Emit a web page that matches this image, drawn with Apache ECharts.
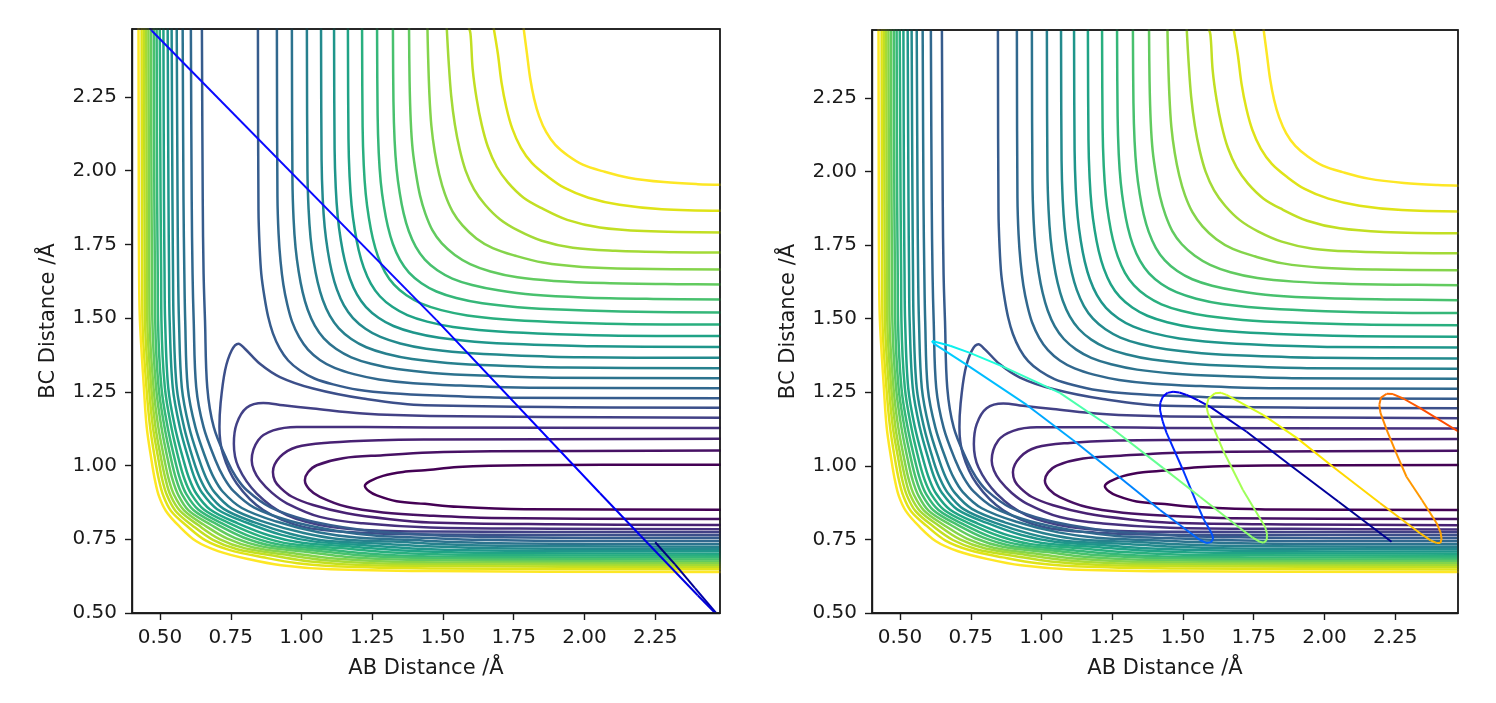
<!DOCTYPE html>
<html>
<head>
<meta charset="utf-8">
<script src="https://cdn.jsdelivr.net/npm/echarts@6/dist/echarts.min.js"></script>
<style>html,body{margin:0;padding:0;background:#fff}#c{width:1496px;height:703px}</style>
</head>
<body>
<div id="c"></div>
<script>
const xTicks = [0.5,0.75,1.0,1.25,1.5,1.75,2.0,2.25];
const yTicks = [0.5,0.75,1.0,1.25,1.5,1.75,2.0,2.25];
const xName = "AB Distance /Å";
const yName = "BC Distance /Å";
const levelColors = ["#440154","#471164","#482173","#46307e","#424186","#3c4f8a","#365c8d","#31688e","#2c738e","#27808e","#238a8d","#1f968b","#20a386","#29af7f","#35b779","#48c16e","#62cb5f","#84d44b","#a3da37","#c2df23","#dfe318","#fde725"];

// the six contours that stay in the reactant valley and open to the right
const valleyContours = [
 [[2.49,1.003],[1.790,1.001],[1.553,.995],[1.436,.984],[1.359,.978],[1.288,.965],[1.242,.947],[1.224,.931],[1.239,.913],[1.266,.899],[1.336,.879],[1.436,.870],[1.553,.860],[1.790,.852],[2.49,.850]],
 [[2.49,1.051],[1.672,1.048],[1.454,1.044],[1.288,1.035],[1.147,1.025],[1.054,1.001],[1.023,.977],[1.012,.950],[1.027,.920],[1.065,.894],[1.160,.860],[1.288,.841],[1.454,.830],[1.672,.822],[2.49,.819]],
 [[2.49,1.091],[1.454,1.088],[1.277,1.086],[1.101,1.078],[.983,1.063],[.924,1.029],[.899,.978],[.906,.948],[.925,.925],[.965,.895],[1.041,.866],[1.160,.838],[1.313,.818],[1.454,.807],[1.878,.801],[2.49,.798]],
 [[2.49,1.127],[1.454,1.129],[1.217,1.131],[.983,1.131],[.900,1.119],[.847,1.086],[.824,1.018],[.832,.984],[.853,.950],[.895,.908],[.948,.872],[1.065,.826],[1.217,.804],[1.454,.790],[1.878,.786],[2.49,.784]],
 [[2.49,1.162],[1.454,1.168],[1.217,1.176],[1.041,1.193],[.935,1.204],[.865,1.212],[.806,1.196],[.771,1.142],[.761,1.074],[.777,.995],[.842,.905],[.948,.832],[1.101,.792],[1.277,.779],[1.454,.776],[2.49,.774]],
 [[2.49,1.196],[1.436,1.204],[1.217,1.227],[1.041,1.261],[.924,1.300],[.853,1.345],[.800,1.396],[.777,1.413],[.753,1.390],[.730,1.323],[.714,1.210],[.710,1.131],[.722,1.041],[.771,.939],[.865,.849],[1.006,.792],[1.195,.773],[1.454,.766],[2.49,.764]]
];

// upper right branch of the sixteen higher levels
const plateauContours = [
 [[.846,2.49],[.848,1.865],[.852,1.741],[.858,1.649],[.869,1.572],[.882,1.505],[.899,1.448],[.923,1.397],[.953,1.356],[.995,1.322],[1.046,1.295],[1.112,1.275],[1.199,1.257],[1.318,1.245],[1.483,1.237],[1.72,1.230],[2.49,1.228]],
 [[.913,2.49],[.915,1.912],[.919,1.786],[.926,1.692],[.936,1.613],[.950,1.545],[.967,1.487],[.992,1.435],[1.023,1.393],[1.065,1.358],[1.117,1.331],[1.185,1.310],[1.274,1.292],[1.395,1.279],[1.563,1.271],[1.805,1.264],[2.49,1.262]],
 [[.966,2.49],[.968,1.966],[.972,1.836],[.979,1.739],[.990,1.658],[1.004,1.588],[1.022,1.528],[1.047,1.474],[1.079,1.431],[1.123,1.395],[1.176,1.367],[1.246,1.345],[1.338,1.327],[1.463,1.314],[1.636,1.305],[1.886,1.298],[2.49,1.296]],
 [[1.019,2.49],[1.021,2.000],[1.025,1.870],[1.032,1.773],[1.043,1.692],[1.057,1.622],[1.075,1.562],[1.100,1.508],[1.132,1.465],[1.176,1.429],[1.229,1.401],[1.299,1.379],[1.391,1.361],[1.516,1.348],[1.689,1.339],[1.939,1.332],[2.49,1.330]],
 [[1.069,2.49],[1.071,2.035],[1.075,1.905],[1.082,1.808],[1.093,1.727],[1.107,1.657],[1.125,1.597],[1.150,1.543],[1.182,1.500],[1.226,1.464],[1.279,1.436],[1.349,1.414],[1.441,1.396],[1.566,1.383],[1.739,1.374],[1.989,1.367],[2.49,1.365]],
 [[1.115,2.49],[1.117,2.072],[1.121,1.942],[1.128,1.845],[1.139,1.764],[1.153,1.694],[1.171,1.634],[1.196,1.580],[1.228,1.537],[1.272,1.501],[1.325,1.473],[1.395,1.451],[1.487,1.433],[1.612,1.420],[1.785,1.411],[2.035,1.404],[2.49,1.402]],
 [[1.164,2.49],[1.166,2.109],[1.170,1.979],[1.177,1.882],[1.188,1.801],[1.202,1.731],[1.220,1.671],[1.245,1.617],[1.277,1.574],[1.321,1.538],[1.374,1.510],[1.444,1.488],[1.536,1.470],[1.661,1.457],[1.834,1.448],[2.084,1.441],[2.49,1.439]],
 [[1.214,2.49],[1.216,2.148],[1.220,2.018],[1.227,1.921],[1.238,1.840],[1.252,1.770],[1.270,1.710],[1.295,1.656],[1.327,1.613],[1.371,1.577],[1.424,1.549],[1.494,1.527],[1.586,1.509],[1.711,1.496],[1.884,1.487],[2.134,1.480],[2.49,1.478]],
 [[1.267,2.49],[1.269,2.189],[1.273,2.059],[1.280,1.962],[1.291,1.881],[1.305,1.811],[1.323,1.751],[1.348,1.697],[1.380,1.654],[1.424,1.618],[1.477,1.590],[1.547,1.568],[1.639,1.550],[1.764,1.537],[1.937,1.528],[2.187,1.521],[2.49,1.519]],
 [[1.323,2.49],[1.325,2.233],[1.329,2.103],[1.336,2.006],[1.347,1.925],[1.361,1.855],[1.379,1.795],[1.404,1.741],[1.436,1.698],[1.480,1.662],[1.533,1.634],[1.603,1.612],[1.695,1.594],[1.820,1.579],[1.993,1.570],[2.243,1.565],[2.49,1.563]],
 [[1.380,2.49],[1.382,2.304],[1.386,2.170],[1.393,2.070],[1.405,1.987],[1.419,1.915],[1.438,1.853],[1.463,1.797],[1.496,1.753],[1.542,1.714],[1.596,1.683],[1.668,1.658],[1.763,1.638],[1.892,1.626],[2.07,1.619],[2.328,1.615],[2.49,1.614]],
 [[1.445,2.49],[1.447,2.402],[1.452,2.259],[1.459,2.152],[1.471,2.063],[1.487,1.986],[1.507,1.920],[1.534,1.861],[1.569,1.814],[1.618,1.770],[1.676,1.737],[1.753,1.712],[1.853,1.688],[1.992,1.673],[2.182,1.667],[2.49,1.665]],
 [[1.513,2.49],[1.520,2.370],[1.529,2.254],[1.542,2.156],[1.559,2.072],[1.580,2.000],[1.610,1.936],[1.649,1.884],[1.701,1.835],[1.765,1.797],[1.849,1.762],[1.959,1.738],[2.109,1.728],[2.317,1.723],[2.49,1.722]],
 [[1.589,2.49],[1.597,2.465],[1.605,2.344],[1.619,2.243],[1.637,2.155],[1.659,2.080],[1.690,2.013],[1.730,1.959],[1.785,1.908],[1.852,1.871],[1.939,1.833],[2.054,1.807],[2.210,1.795],[2.49,1.790]],
 [[1.678,2.49],[1.694,2.396],[1.707,2.298],[1.724,2.214],[1.745,2.142],[1.775,2.078],[1.814,2.026],[1.866,1.983],[1.930,1.941],[2.014,1.908],[2.124,1.884],[2.274,1.869],[2.49,1.864]],
 [[1.784,2.49],[1.797,2.395],[1.808,2.314],[1.822,2.244],[1.840,2.184],[1.865,2.130],[1.897,2.087],[1.941,2.051],[1.994,2.020],[2.064,1.998],[2.156,1.976],[2.281,1.961],[2.40,1.954],[2.49,1.952]]
];

// wall branch of the same sixteen levels
const wallContours = [
 [[.648,2.49],[.651,1.9],[.654,1.65],[.659,1.492],[.667,1.265],[.690,1.130],[.737,1.018],[.768,.962],[.807,.916],[.889,.859],[1.019,.815],[1.196,.784],[1.35,.770],[1.50,.762],[1.70,.757],[1.90,.755],[2.15,.754],[2.49,.754]],
 [[.609,2.49],[.612,1.9],[.615,1.65],[.619,1.492],[.628,1.265],[.654,1.130],[.696,1.018],[.725,.960],[.760,.913],[.833,.857],[.960,.812],[1.122,.779],[1.266,.762],[1.438,.755],[1.631,.748],[1.828,.745],[2.087,.744],[2.49,.744]],
 [[.580,2.49],[.583,1.9],[.586,1.65],[.589,1.492],[.598,1.265],[.625,1.130],[.664,1.018],[.690,.959],[.722,.911],[.789,.856],[.911,.810],[1.059,.774],[1.195,.756],[1.376,.748],[1.561,.740],[1.757,.736],[2.025,.734],[2.49,.734]],
 [[.559,2.49],[.562,1.9],[.564,1.65],[.567,1.492],[.577,1.265],[.603,1.130],[.639,1.018],[.663,.958],[.693,.909],[.754,.854],[.870,.808],[1.008,.771],[1.137,.750],[1.324,.742],[1.503,.733],[1.697,.728],[1.973,.726],[2.49,.725]],
 [[.541,2.49],[.544,1.9],[.546,1.65],[.548,1.492],[.559,1.265],[.585,1.130],[.618,1.018],[.641,.957],[.669,.908],[.725,.853],[.834,.807],[.963,.768],[1.086,.745],[1.273,.736],[1.445,.726],[1.637,.720],[1.920,.718],[2.49,.717]],
 [[.527,2.49],[.530,1.9],[.532,1.65],[.534,1.492],[.545,1.265],[.570,1.130],[.602,1.018],[.623,.956],[.649,.907],[.702,.852],[.807,.806],[.929,.765],[1.047,.742],[1.224,.730],[1.391,.719],[1.582,.713],[1.872,.710],[2.49,.709]],
 [[.512,2.49],[.514,1.9],[.516,1.65],[.518,1.492],[.529,1.265],[.553,1.130],[.583,1.018],[.603,.956],[.628,.905],[.677,.851],[.775,.804],[.889,.762],[1.002,.738],[1.180,.725],[1.341,.713],[1.530,.706],[1.826,.703],[2.49,.701]],
 [[.499,2.49],[.502,1.9],[.504,1.65],[.505,1.492],[.517,1.265],[.540,1.130],[.567,1.018],[.586,.955],[.610,.904],[.655,.851],[.748,.803],[.855,.760],[.963,.734],[1.135,.720],[1.291,.707],[1.478,.699],[1.781,.696],[2.49,.694]],
 [[.488,2.49],[.490,1.9],[.492,1.65],[.493,1.492],[.505,1.265],[.527,1.130],[.553,1.018],[.571,.954],[.593,.903],[.636,.850],[.723,.802],[.823,.758],[.928,.731],[1.093,.715],[1.245,.701],[1.430,.692],[1.739,.689],[2.49,.688]],
 [[.478,2.49],[.480,1.9],[.482,1.65],[.483,1.492],[.495,1.265],[.516,1.130],[.540,1.018],[.557,.954],[.578,.902],[.618,.849],[.700,.801],[.795,.756],[.895,.728],[1.056,.711],[1.202,.696],[1.387,.687],[1.701,.683],[2.49,.681]],
 [[.468,2.49],[.470,1.9],[.472,1.65],[.473,1.492],[.486,1.265],[.505,1.130],[.528,1.018],[.544,.953],[.564,.901],[.601,.848],[.678,.800],[.766,.754],[.863,.725],[1.018,.707],[1.160,.690],[1.343,.681],[1.663,.677],[2.49,.675]],
 [[.459,2.49],[.461,1.9],[.462,1.65],[.463,1.492],[.477,1.265],[.494,1.130],[.516,1.018],[.531,.953],[.550,.900],[.585,.848],[.655,.799],[.738,.752],[.831,.722],[.978,.702],[1.116,.685],[1.297,.675],[1.623,.671],[2.49,.669]],
 [[.451,2.49],[.453,1.9],[.454,1.65],[.455,1.492],[.469,1.265],[.484,1.130],[.505,1.018],[.520,.952],[.537,.899],[.570,.847],[.635,.798],[.712,.750],[.802,.719],[.942,.698],[1.075,.680],[1.255,.669],[1.586,.665],[2.49,.662]],
 [[.443,2.49],[.445,1.9],[.446,1.65],[.447,1.492],[.461,1.265],[.475,1.130],[.495,1.018],[.508,.952],[.525,.898],[.555,.846],[.614,.797],[.687,.748],[.773,.716],[.904,.694],[1.032,.675],[1.211,.663],[1.548,.659],[2.49,.655]],
 [[.435,2.49],[.436,1.9],[.437,1.65],[.438,1.492],[.452,1.265],[.465,1.130],[.483,1.018],[.496,.952],[.512,.897],[.539,.846],[.594,.796],[.661,.746],[.744,.714],[.863,.689],[.986,.669],[1.164,.657],[1.506,.651],[2.49,.648]],
 [[.424,2.49],[.425,1.9],[.426,1.65],[.429,1.492],[.443,1.265],[.453,1.130],[.470,1.018],[.482,.951],[.496,.897],[.521,.846],[.567,.795],[.627,.744],[.705,.710],[.811,.683],[.928,.662],[1.104,.648],[1.454,.642],[2.49,.639]]
];

const leftTrajectory = [[2.25,.74],[2.32,.665],[2.39,.585],[2.465,.50],[2.472,.49],[2.40,.56],[2.20,.76],[2.055,.906],[1.478,1.492],[.471,2.474],[.46,2.49]];
const leftTrajectoryColors = ["#000080","#000090","#0000a8","#0000c8","#0000d8","#0000e0","#0000f0","#0000ff","#0a0aff","#1414ff"];

const rightTrajectory = [
 [2.237,.742],[2.05,.878],[1.878,1.003],[1.725,1.116],[1.595,1.201],[1.555,1.222],[1.513,1.241],[1.487,1.249],[1.465,1.252],[1.445,1.248],[1.429,1.235],[1.420,1.215],[1.419,1.190],[1.428,1.152],[1.442,1.112],
 [1.500,.986],[1.548,.874],[1.575,.815],[1.595,.782],[1.605,.762],[1.606,.750],[1.598,.740],[1.582,.738],[1.560,.748],[1.489,.799],[1.419,.850],[1.266,.969],[1.111,1.088],[.948,1.207],[.736,1.343],[.617,1.417],[.613,1.424],
 [.677,1.408],[.747,1.384],[.864,1.337],[1.065,1.248],[1.242,1.133],[1.429,.993],[1.560,.895],[1.701,.789],[1.745,.757],[1.772,.742],[1.785,.739],[1.796,.748],[1.797,.770],[1.790,.793],[1.712,.918],[1.641,1.054],[1.610,1.125],[1.588,1.180],[1.583,1.203],[1.590,1.228],[1.613,1.247],[1.635,1.248],[1.654,1.241],
 [1.783,1.173],[1.902,1.095],[2.030,.997],[2.196,.874],[2.337,.772],[2.375,.747],[2.396,.738],[2.410,.738],[2.414,.752],[2.410,.775],[2.396,.806],[2.345,.883],[2.290,.963],[2.253,1.045],[2.220,1.122],[2.198,1.180],[2.194,1.208],[2.200,1.232],[2.220,1.245],[2.242,1.244],[2.280,1.228],[2.337,1.197],[2.49,1.107]
];
const rightTrajectoryColors = [
 "#000090","#00009c","#0000a8","#0000c0","#0000d8","#0000e0","#0000e8","#0000f0","#0000f8","#0000ff","#0008ff","#0010ff","#0018ff","#0020ff","#0028ff",
 "#0038ff","#0048ff","#004cff","#0050ff","#0054ff","#0058ff","#005cff","#0060ff","#0064ff","#0070ff","#0084ff","#0098ff","#00a8ff","#00bcff","#00ccff","#00d8ff","#00e4f8",
 "#0ef0ec","#1cffdc","#34ffc4","#4cffac","#64ff94","#78ff80","#84ff74","#8cff6c","#90ff68","#92ff66","#94ff64","#96ff62","#98ff60","#9cff5c","#a4ff54","#acff4c","#b4ff44","#bcff3c","#c0ff38","#c4ff34","#caff2e","#d0ff28","#d6ff22",
 "#f0fa0c","#ffe600","#ffd800","#ffc800","#ffbc00","#ffb600","#ffb000","#ffaa00","#ffa400","#ffa000","#ff9c00","#ff9800","#ff9400","#ff9000","#ff8800","#ff8200","#ff7c00","#ff7400","#ff6c00","#ff6400","#ff5800","#ff4c00"
];

const panels = [
  {left:132, top:29, width:588, height:584, xMin:0.401, xMax:2.479, yMin:0.5, yMax:2.48},
  {left:872, top:30, width:586, height:583, xMin:0.401, xMax:2.472, yMin:0.5, yMax:2.481}
];
const textColor = "#1a1a1a";
const fontFamily = "DejaVu Sans";

function axisCommon(ticks, name, margin, nameGap) {
  return {
    type: "value", name: name, nameLocation: "middle", nameGap: nameGap,
    nameTextStyle: {color: textColor, fontSize: 21, fontFamily: fontFamily},
    scale: true, splitLine: {show: false},
    axisLine: {show: true, onZero: false, lineStyle: {color: "#1a1a1a", width: 1.4}},
    axisTick: {show: true, length: 7, inside: false, customValues: ticks, lineStyle: {color: "#1a1a1a", width: 1.4}},
    axisLabel: {show: true, margin: margin, customValues: ticks, color: textColor, fontSize: 20, fontFamily: fontFamily,
      formatter: v => Number(v).toFixed(2), showMinLabel: true, showMaxLabel: true, hideOverlap: false},
    z: 10
  };
}

const frames = [];
panels.forEach(p => {
  frames.push({type: "rect", z: 100, silent: true, shape: {x: p.left + p.width + 1, y: p.top - 5, width: 5, height: p.height + 5}, style: {fill: "#fff"}});
  frames.push({type: "rect", z: 100, silent: true, shape: {x: p.left, y: p.top - 6, width: p.width + 6, height: 5}, style: {fill: "#fff"}});
  frames.push({type: "rect", z: 101, silent: true, shape: {x: p.left, y: p.top, width: p.width, height: p.height}, style: {fill: "none", stroke: "#1a1a1a", lineWidth: 1.4}});
});

const option = {
  animation: false, backgroundColor: "#fff",
  graphic: frames,
  grid: panels.map(p => ({left: p.left, top: p.top, width: p.width, height: p.height, show: true, borderColor: "#1a1a1a", borderWidth: 1.4, backgroundColor: "#fff", containLabel: false})),
  xAxis: panels.map((p, i) => Object.assign(axisCommon(xTicks, xName, 15, 45), {gridIndex: i, min: p.xMin, max: p.xMax})),
  yAxis: panels.map((p, i) => Object.assign(axisCommon(yTicks, yName, 15, 73), {gridIndex: i, min: p.yMin, max: p.yMax})),
  series: []
};

function addLine(panel, data, color, width, z, smooth) {
  option.series.push({type: "line", xAxisIndex: panel, yAxisIndex: panel, data: data, showSymbol: false, symbol: "none", silent: true,
    smooth: smooth, clip: true, z: z, lineStyle: {color: color, width: width, cap: "butt", join: "round"}});
}

panels.forEach((p, i) => {
  valleyContours.forEach((c, k) => addLine(i, c, levelColors[k], 2.5, 3, 0.35));
  plateauContours.forEach((c, k) => addLine(i, c, levelColors[k + 6], 2.5, 3, 0.35));
  wallContours.forEach((c, k) => addLine(i, c, levelColors[k + 6], 2.5, 3, 0.35));
});
leftTrajectoryColors.forEach((col, k) => addLine(0, leftTrajectory.slice(k, k + 2), col, 2, 5, false));
rightTrajectoryColors.forEach((col, k) => addLine(1, rightTrajectory.slice(k, k + 2), col, 2, 5, false));

const chart = echarts.init(document.getElementById("c"), null, {renderer: "canvas"});
chart.setOption(option);
</script>
</body>
</html>
